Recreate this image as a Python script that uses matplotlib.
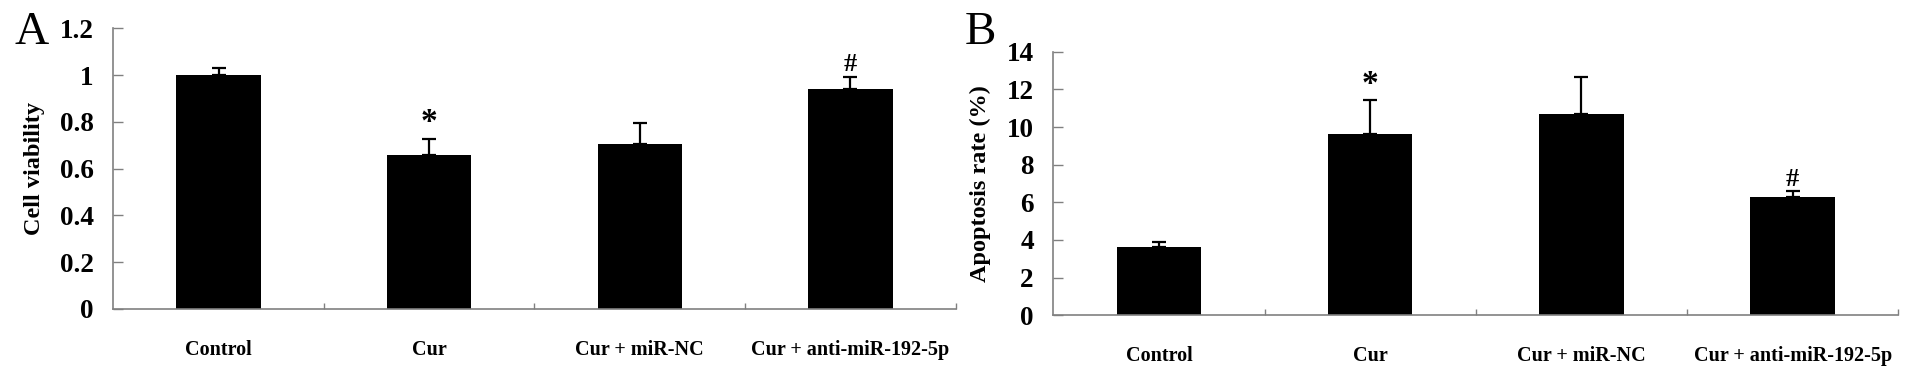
import numpy as np
import matplotlib.pyplot as plt

groups = ['Control', 'Cur', 'Cur + miR-NC', 'Cur + anti-miR-192-5p']

viability = [1.0, 0.66, 0.705, 0.94]
viability_err = [0.03, 0.065, 0.09, 0.05]
viability_marks = ['', '*', '', '#']

apoptosis = [3.63, 9.65, 10.69, 6.30]
apoptosis_err = [0.28, 1.8, 1.95, 0.32]
apoptosis_marks = ['', '*', '', '#']

plt.rcParams['font.family'] = ['Liberation Serif', 'DejaVu Serif']
plt.rcParams['font.weight'] = 'bold'

fig = plt.figure(figsize=(19.13, 3.72), dpi=100)
axA = fig.add_axes([0.0592, 0.1694, 0.4404, 0.7545])
axB = fig.add_axes([0.5506, 0.1524, 0.4417, 0.7086])


def panel(ax, vals, errs, marks, ymax, ystep, ylabel, tickfmt, markpad):
    x = np.arange(len(groups))
    ax.bar(x, vals, width=0.4, color='black', zorder=2)
    ax.errorbar(x, vals, yerr=[np.zeros(len(vals)), errs], fmt='none',
                ecolor='black', elinewidth=1.6, capsize=5, capthick=1.6, zorder=3)
    for xi, v, e, m in zip(x, vals, errs, marks):
        if m:
            size = 24 if m == '*' else 19
            ax.text(xi, v + e + markpad, m, ha='center', va='bottom',
                    fontsize=size, fontweight='bold')
    ax.set_xlim(-0.5, len(groups) - 0.5)
    ax.set_ylim(0, ymax)
    ticks = np.arange(0, ymax + ystep / 2, ystep)
    ax.set_yticks(ticks)
    ax.set_yticklabels([tickfmt(t) for t in ticks], fontsize=19.5, fontweight='bold')
    ax.set_xticks(np.arange(len(groups)) + 0.5)
    ax.set_xticklabels([])
    ax.set_xticks(np.arange(len(groups)), minor=True)
    ax.set_xticklabels(groups, minor=True, fontsize=14.5, fontweight='bold')
    ax.tick_params(axis='x', which='minor', length=0, pad=22)
    ax.tick_params(axis='x', which='major', direction='in', length=4,
                   color='#808080', width=1)
    ax.tick_params(axis='y', direction='in', length=7, color='#808080',
                   width=1, pad=14)
    for s in ['top', 'right']:
        ax.spines[s].set_visible(False)
    for s in ['left', 'bottom']:
        ax.spines[s].set_color('#808080')
        ax.spines[s].set_linewidth(1.2)
    ax.set_ylabel(ylabel, fontsize=17.5, fontweight='bold', labelpad=11)


def fmt_a(t):
    if abs(t - round(t)) < 1e-9:
        return '%d' % round(t)
    return ('%.1f' % t)


panel(axA, viability, viability_err, viability_marks, 1.2, 0.2,
      'Cell viability', fmt_a, 0.005)
panel(axB, apoptosis, apoptosis_err, apoptosis_marks, 14, 2,
      'Apoptosis rate (%)', lambda t: '%d' % t, 0.0)

fig.text(0.0078, 0.855, 'A', fontsize=34, fontweight='normal', va='bottom')
fig.text(0.5045, 0.855, 'B', fontsize=34, fontweight='normal', va='bottom')

fig.savefig('out.png', dpi=100)
